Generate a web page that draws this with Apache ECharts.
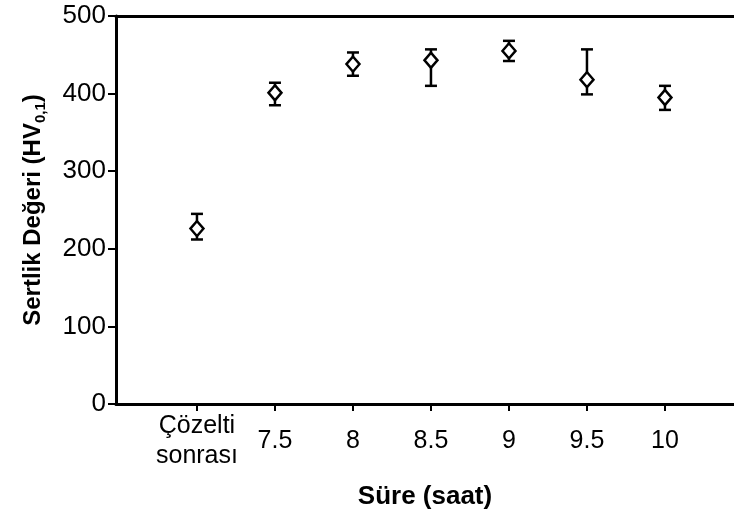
<!DOCTYPE html>
<html>
<head>
<meta charset="utf-8">
<script src="https://cdn.jsdelivr.net/npm/echarts@6/dist/echarts.min.js"></script>
<style>
  html, body { margin: 0; padding: 0; background: #fff; }
  #chart { width: 734px; height: 517px; }
</style>
</head>
<body>
<div id="chart"></div>
<script>
// Hardness measurements vs. aging time
const categories = ['Çözelti\nsonrası', '7.5', '8', '8.5', '9', '9.5', '10'];
const meanHV = [226, 401, 438, 443, 455, 418, 395];
const upperHV = [245, 414, 453, 457, 468, 457, 410];
const lowerHV = [212, 385, 423, 410, 442, 399, 379];
const yTicks = [0, 100, 200, 300, 400, 500];

const FONT = '"Liberation Sans", Arial, sans-serif';
const positions = categories.map((_, i) => i);

const points = meanHV.map((v, i) => [i, v]);
const bars = meanHV.map((v, i) => [i, lowerHV[i], upperHV[i]]);

const chart = echarts.init(document.getElementById('chart'));
chart.setOption({
  animation: false,
  backgroundColor: '#fff',
  grid: { left: 116, right: 0, top: 16, bottom: 113, outerBoundsMode: 'none', containLabel: false },
  xAxis: [{
    type: 'value',
    min: -1.038,
    max: 6.885,
    position: 'bottom',
    splitLine: { show: false },
    axisLine: { show: true, onZero: false, lineStyle: { color: '#000', width: 3 } },
    axisTick: { show: true, customValues: positions, length: 7, lineStyle: { color: '#000', width: 2 } },
    axisLabel: {
      customValues: positions,
      formatter: v => categories[Math.round(v)],
      color: '#000', fontFamily: FONT, fontSize: 25,
      verticalAlign: 'middle', lineHeight: 30, margin: 37
    },
    name: 'Süre (saat)',
    nameLocation: 'middle',
    nameGap: 80,
    nameTextStyle: { color: '#000', fontFamily: FONT, fontSize: 26, fontWeight: 'bold' }
  }, {
    type: 'value',
    min: -1.038,
    max: 6.885,
    position: 'top',
    splitLine: { show: false },
    axisLine: { show: true, onZero: false, lineStyle: { color: '#000', width: 3 } },
    axisTick: { show: false },
    axisLabel: { show: false }
  }],
  yAxis: {
    type: 'value',
    min: 0,
    max: 500,
    interval: 100,
    splitLine: { show: false },
    axisLine: { show: true, onZero: false, lineStyle: { color: '#000', width: 3 } },
    axisTick: { show: true, length: 8, lineStyle: { color: '#000', width: 2 } },
    axisLabel: {
      customValues: yTicks,
      color: '#000', fontFamily: FONT, fontSize: 26, margin: 10
    },
    name: '{b|Sertlik Değeri (HV}{s|0,1}{b|)}',
    nameLocation: 'middle',
    nameRotate: 90,
    nameGap: 68,
    nameTextStyle: {
      rich: {
        b: { color: '#000', fontFamily: FONT, fontSize: 24, fontWeight: 'bold', lineHeight: 30, verticalAlign: 'middle' },
        s: { color: '#000', fontFamily: FONT, fontSize: 15, fontWeight: 'bold', lineHeight: 30, verticalAlign: 'bottom', padding: [9, 0, 0, 0] }
      }
    }
  },
  series: [{
    type: 'custom',
    xAxisIndex: 0,
    data: bars,
    z: 2,
    renderItem: (params, api) => {
      const x = api.value(0);
      const lo = api.coord([x, api.value(1)]);
      const hi = api.coord([x, api.value(2)]);
      const cap = 6;
      const style = { stroke: '#000', lineWidth: 2.5, fill: null };
      return {
        type: 'group',
        children: [
          { type: 'line', shape: { x1: lo[0], y1: lo[1], x2: hi[0], y2: hi[1] }, style },
          { type: 'line', shape: { x1: hi[0] - cap, y1: hi[1], x2: hi[0] + cap, y2: hi[1] }, style },
          { type: 'line', shape: { x1: lo[0] - cap, y1: lo[1], x2: lo[0] + cap, y2: lo[1] }, style }
        ]
      };
    }
  }, {
    type: 'scatter',
    xAxisIndex: 0,
    data: points,
    z: 3,
    symbol: 'diamond',
    symbolSize: [13, 15],
    itemStyle: { color: '#fff', borderColor: '#000', borderWidth: 2.5, opacity: 1 }
  }]
});
</script>
</body>
</html>
